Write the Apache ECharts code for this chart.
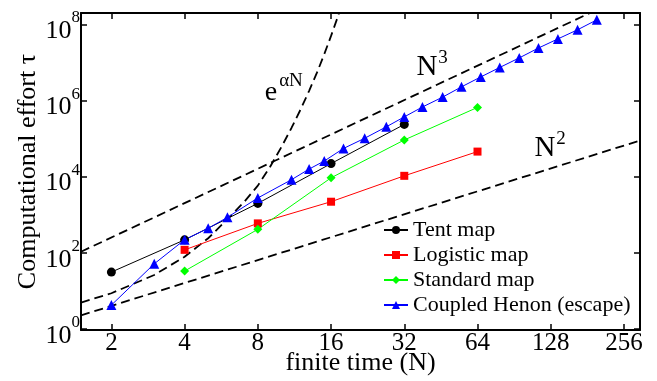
<!DOCTYPE html>
<html>
<head>
<meta charset="utf-8">
<script src="https://cdn.jsdelivr.net/npm/echarts@6/dist/echarts.min.js"></script>
<style>
  html, body { margin: 0; background: #fff; }
  #chart { width: 657px; height: 381px; }
</style>
</head>
<body>
<div id="chart"></div>
<script>
// tick labels
const xTicks = [2, 4, 8, 16, 32, 64, 128, 256];
const xTickLabels = ['2', '4', '8', '16', '32', '64', '128', '256'];
const yTickPowers = [0, 2, 4, 6, 8];

// data series
const tentN = [2, 4, 8, 16, 32];
const tentTau = [31, 218, 1980, 22000, 236000];

const logisticN = [4, 8, 16, 32, 64];
const logisticTau = [119, 590, 2190, 10500, 45500];

const standardN = [4, 8, 16, 32, 64];
const standardTau = [33, 412, 9300, 92000, 660000];

const henonN = [2, 3, 4, 5, 6, 8, 11, 13, 15, 18, 22, 27, 32, 38, 46, 55, 66, 79, 95, 114, 137, 165, 198];
const henonTau = [4.2, 51, 219, 437, 851, 2750, 8300, 15800, 25700, 55000, 102000, 204000, 372000,
  676000, 1230000, 2290000, 4170000, 7400000, 13200000, 24000000, 41700000, 72400000, 132000000];

// guide curves
const cubeN = [1.5, 298];
const cubeTau = [106, 830000000];
const squareN = [1.5, 298];
const squareTau = [2.25, 88800];
const expN = [1.5, 2, 3, 4, 5, 6, 7, 8, 9, 10, 11, 12, 13, 14, 15, 16, 17, 18];
const expTau = [4.9, 8.6, 26, 78, 240, 760, 2100, 5800, 18500, 60000, 190000, 590000,
  1800000, 5400000, 16500000, 50000000, 150000000, 460000000];

const FONT = 'Liberation Serif';

function pairs(xs, ys) { return xs.map((x, i) => [x, ys[i]]); }

const chart = echarts.init(document.getElementById('chart'));

const frameLine = { lineStyle: { color: '#000', width: 2 } };
const innerTick = { inside: true, length: 6, lineStyle: { color: '#000', width: 1.5 } };

function xLabel(v) {
  const i = xTicks.findIndex(t => Math.abs(t - v) < 1e-6 * t);
  return i >= 0 ? xTickLabels[i] : '';
}
function yLabel(v) {
  const k = Math.log10(v);
  const i = yTickPowers.findIndex(p => Math.abs(p - k) < 1e-6);
  return i >= 0 ? '{b|10}{s|' + yTickPowers[i] + '}' : '';
}

const xBase = {
  type: 'log', logBase: 2, min: 1.5, max: 298,
  axisLine: frameLine, axisTick: innerTick, splitLine: { show: false }
};
const yBase = {
  type: 'log', logBase: 100, min: 0.93, max: 2.0e8,
  axisLine: frameLine, axisTick: innerTick, splitLine: { show: false }
};

function dataLine(name, xs, ys, color, symbol, size) {
  return {
    name, type: 'line', data: pairs(xs, ys),
    symbol, symbolSize: size,
    lineStyle: { color, width: 1 },
    itemStyle: { color },
    z: 3
  };
}
function guide(name, xs, ys) {
  return {
    name, type: 'line', data: pairs(xs, ys), symbol: 'none', silent: true,
    lineStyle: { color: '#000', width: 1.8, type: [9, 5] }, z: 2
  };
}

function txt(text, x, y, size) {
  return {
    type: 'text', x, y, z: 10,
    style: { text, fill: '#000', font: size + 'px "' + FONT + '"', align: 'center', verticalAlign: 'middle' }
  };
}

chart.setOption({
  animation: false,
  grid: { left: 81, right: 17, top: 13, bottom: 51, outerBoundsMode: 'none' },
  xAxis: [
    Object.assign({}, xBase, {
      position: 'bottom',
      name: 'finite time (N)', nameLocation: 'middle', nameGap: 20, nameMoveOverlap: false,
      nameTextStyle: { fontFamily: FONT, fontSize: 26, color: '#000' },
      axisLabel: { formatter: xLabel, fontFamily: FONT, fontSize: 25, color: '#000', margin: 1 }
    }),
    Object.assign({}, xBase, { position: 'top', axisLabel: { show: false } })
  ],
  yAxis: [
    Object.assign({}, yBase, {
      position: 'left',
      name: 'Computational effort τ', nameLocation: 'middle', nameGap: 40, nameMoveOverlap: false,
      nameTextStyle: { fontFamily: FONT, fontSize: 26, color: '#000' },
      axisLabel: {
        formatter: yLabel, margin: 1, color: '#000',
        rich: {
          b: { fontFamily: FONT, fontSize: 26, color: '#000', padding: [14, 0, 0, 0] },
          s: { fontFamily: FONT, fontSize: 17, color: '#000', verticalAlign: 'top', padding: [5, 0, 0, 0] }
        }
      }
    }),
    Object.assign({}, yBase, { position: 'right', axisLabel: { show: false } })
  ],
  legend: {
    data: ['Tent map', 'Logistic map', 'Standard map', 'Coupled Henon (escape)'],
    orient: 'vertical', left: 383, top: 219, padding: 0, itemGap: 3,
    itemWidth: 24, itemHeight: 10,
    textStyle: { fontFamily: FONT, fontSize: 22, color: '#000' }
  },
  series: [
    guide('N3', cubeN, cubeTau),
    guide('N2', squareN, squareTau),
    guide('exp', expN, expTau),
    dataLine('Tent map', tentN, tentTau, '#000000', 'circle', 9),
    dataLine('Logistic map', logisticN, logisticTau, '#ff0000', 'rect', 8),
    dataLine('Standard map', standardN, standardTau, '#00ff00', 'diamond', 9),
    dataLine('Coupled Henon (escape)', henonN, henonTau, '#0000ff', 'triangle', 10)
  ],
  graphic: [
    txt('e', 271, 93, 28),
    txt('αN', 291, 81, 19),
    txt('N', 427, 67, 29),
    txt('3', 443, 58, 19),
    txt('N', 545, 148, 29),
    txt('2', 561, 139, 19)
  ]
});
</script>
</body>
</html>
